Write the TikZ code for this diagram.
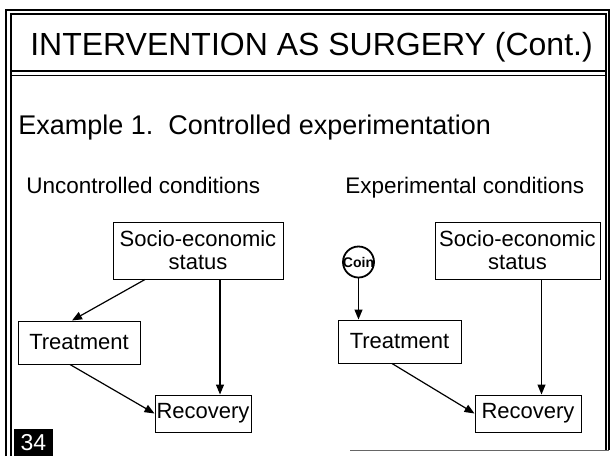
\documentclass[tikz,border=0pt]{standalone}
\usepackage{fontspec}
\setmainfont{Liberation Sans}
\usetikzlibrary{arrows.meta}
\tikzset{every path/.style={semithick}}
\tikzset{
  box/.style={draw, line width=1pt, inner sep=0pt, align=center,
    font=\fontsize{22}{23}\selectfont},
  coin/.style={draw, circle, line width=1.8pt, inner sep=0pt, minimum size=31pt,
    font=\bfseries\fontsize{14}{15}\selectfont},
  link/.style={-{Triangle[length=10pt,width=8pt]}, line width=1.2pt},
  frame/.style={line width=1.4pt},
  label/.style={anchor=base west, inner sep=0pt, font=\fontsize{22.5}{24}\selectfont},
}

\begin{document}
\begin{tikzpicture}[x=1pt, y=-1pt]
  \useasboundingbox (0,0) rectangle (611,456);

  % slide frame, title bar with double rule
  \draw[frame] (6,456) -- (6,10) -- (609,10) -- (609,450);
  \draw[frame] (11,456) -- (11,14) -- (606,14) -- (606,450);
  \draw[line width=2pt] (11,71) -- (606,71);
  \draw[line width=1pt] (11,75) -- (606,75);
  \draw[line width=1pt, black!60] (350,450) -- (609,450);

  \node[anchor=base, inner sep=0pt, font=\fontsize{32}{35}\selectfont] (title) at (311.5,55)
    {INTERVENTION AS SURGERY (Cont.)};
  \node[anchor=base west, inner sep=0pt, font=\fontsize{27}{30}\selectfont] (sub) at (18,134)
    {Example 1.\ \ Controlled experimentation};
  \node[label] (uncond) at (26,193) {Uncontrolled conditions};
  \node[label] (expcond) at (345,193) {Experimental conditions};

  % uncontrolled
  \node[box, minimum width=170pt, minimum height=57pt] (sesL) at (198,250.5)
    {Socio-economic\\status};
  \node[box, minimum width=122pt, minimum height=43pt] (trtL) at (79,342.5) {Treatment};
  \node[box, minimum width=96pt, minimum height=37pt] (recL) at (203,413.5) {Recovery};

  \draw[link] ([xshift=-53pt]sesL.south) -- ([xshift=-7pt]trtL.north);
  \draw[link] ([xshift=22pt]sesL.south) -- ([xshift=22pt]sesL.south |- recL.north);
  \draw[link] ([xshift=-9pt]trtL.south) -- (recL.west);

  % experimental
  \node[coin] (coin) at (358.5,262) {\makebox[0pt]{Coin}};
  \node[box, minimum width=123pt, minimum height=43pt] (trtR) at (399.5,341.5) {Treatment};
  \node[box, minimum width=165pt, minimum height=57pt] (sesR) at (517.5,250.5)
    {Socio-economic\\status};
  \node[box, minimum width=106pt, minimum height=37pt] (recR) at (528,413.5) {Recovery};

  \draw[link] (coin.south) -- (coin.south |- trtR.north);
  \draw[link] ([xshift=24pt]sesR.south) -- ([xshift=24pt]sesR.south |- recR.north);
  \draw[link] ([xshift=-7.5pt]trtR.south) -- (recR.west);

  % slide number
  \node[fill=black, text=white, inner sep=0pt, minimum width=39pt, minimum height=27pt,
    font=\fontsize{23}{24}\selectfont] (num) at (33.5,442.5) {34};
\end{tikzpicture}
\end{document}
